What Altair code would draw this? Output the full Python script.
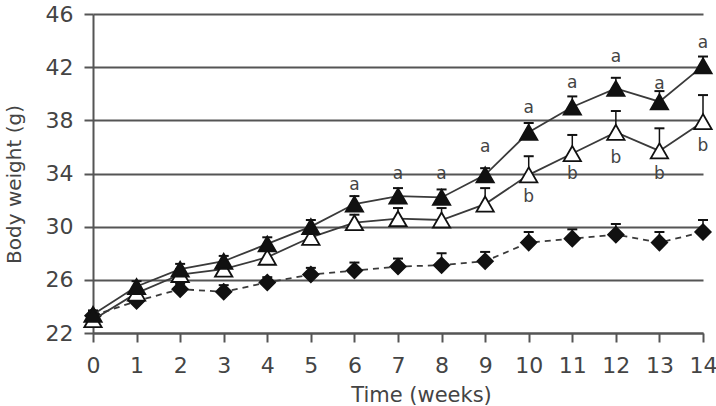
import altair as alt
import pandas as pd

weeks = list(range(15))
filled_mean = [23.4, 25.5, 26.8, 27.4, 28.7, 30.0, 31.7, 32.3, 32.2, 33.9, 37.1, 39.0, 40.4, 39.4, 42.1]
filled_err = [0.3, 0.4, 0.4, 0.4, 0.5, 0.5, 0.6, 0.6, 0.6, 0.5, 0.7, 0.8, 0.8, 0.8, 0.7]
open_mean = [23.0, 25.0, 26.4, 26.8, 27.7, 29.2, 30.3, 30.6, 30.5, 31.7, 33.9, 35.5, 37.1, 35.7, 37.9]
open_err = [0.3, 0.4, 0.4, 0.5, 0.5, 0.5, 0.6, 0.8, 0.9, 1.2, 1.4, 1.4, 1.6, 1.7, 2.0]
diamond_mean = [23.3, 24.4, 25.3, 25.1, 25.8, 26.4, 26.7, 27.0, 27.1, 27.4, 28.8, 29.1, 29.4, 28.8, 29.6]
diamond_err = [0.3, 0.3, 0.4, 0.5, 0.4, 0.5, 0.6, 0.6, 0.9, 0.7, 0.8, 0.7, 0.8, 0.8, 0.9]

a_weeks = [6, 7, 8, 9, 10, 11, 12, 13, 14]
a_y = [33.1, 34.0, 34.0, 36.0, 38.9, 40.8, 42.8, 40.7, 43.8]
b_weeks = [10, 11, 12, 13, 14]
b_y = [32.2, 34.0, 35.2, 34.0, 36.1]

y_ticks = [22, 26, 30, 34, 38, 42, 46]

xs = alt.Scale(domain=[0, 14], nice=False, zero=False)
ys = alt.Scale(domain=[22, 46], nice=False, zero=False)

AX = "#555555"
TXT = "#444444"
LINE = "#3a3a3a"
MK = "#111111"

x_axis = alt.Axis(values=weeks, grid=False, tickSize=9, tickWidth=2, tickColor=AX,
                  domainColor=AX, domainWidth=2, labelFontSize=22, labelColor=TXT,
                  labelPadding=13, labelFont="DejaVu Sans", labelFlush=False,
                  labelOverlap=False, title="Time (weeks)",
                  titleFontSize=21, titleColor=TXT, titleFontWeight="normal",
                  titleFont="DejaVu Sans", titleX=328, titleY=62,
                  titleBaseline="middle", titleAlign="center")
y_axis = alt.Axis(values=y_ticks, grid=True, gridColor=AX, gridWidth=2, tickSize=9,
                  tickWidth=2, tickColor=AX, domainColor=AX, domainWidth=2,
                  labelFontSize=22, labelColor=TXT, labelPadding=11, labelFont="DejaVu Sans",
                  labelFlush=False, labelOverlap=False,
                  title="Body weight (g)", titleFontSize=20, titleColor=TXT,
                  titleFontWeight="normal", titleFont="DejaVu Sans",
                  titleX=-79, titleY=170, titleAngle=270, titleBaseline="middle",
                  titleAlign="center")


def series(mean, err, shape, fill, dash):
    df = pd.DataFrame({"week": weeks, "mean": mean,
                       "top": [m + e for m, e in zip(mean, err)]})
    base = alt.Chart(df)
    line_kw = dict(color=LINE, strokeWidth=1.8)
    if dash:
        line_kw["strokeDash"] = [6, 5]
    line = base.mark_line(**line_kw).encode(
        x=alt.X("week:Q", scale=xs, axis=x_axis),
        y=alt.Y("mean:Q", scale=ys, axis=y_axis))
    stem = base.mark_rule(color=MK, strokeWidth=1.5).encode(
        x="week:Q", y="mean:Q", y2="top:Q")
    cap = base.mark_point(shape="M-1,0L1,0", size=100, filled=False,
                          color=MK, strokeWidth=2, opacity=1).encode(
        x="week:Q", y="top:Q")
    pt = base.mark_point(shape=shape, size=shape == "diamond" and 240 or 300,
                         filled=True, fill=fill, stroke=MK, strokeWidth=1.8,
                         opacity=1).encode(x="week:Q", y="mean:Q")
    return [line, stem, cap, pt]


layers = []
layers += series(diamond_mean, diamond_err, "diamond", MK, True)
layers += series(open_mean, open_err, "triangle-up", "white", False)
layers += series(filled_mean, filled_err, "triangle-up", MK, False)

a_df = pd.DataFrame({"week": a_weeks, "y": a_y, "t": ["a"] * len(a_weeks)})
b_df = pd.DataFrame({"week": b_weeks, "y": b_y, "t": ["b"] * len(b_weeks)})
txt_kw = dict(fontSize=17, color=TXT, baseline="middle", align="center", font="DejaVu Sans")
a_txt = alt.Chart(a_df).mark_text(**txt_kw).encode(x="week:Q", y="y:Q", text="t:N")
b_txt = alt.Chart(b_df).mark_text(**txt_kw).encode(x="week:Q", y="y:Q", text="t:N")
layers += [a_txt, b_txt]

chart = alt.layer(*layers).properties(
    width=610, height=319,
    autosize=alt.AutoSizeParams(type="none"),
    padding={"left": 93, "top": 14, "right": 13, "bottom": 73},
    background="white",
).configure_view(stroke=None)

chart.save("out.html", embed_options={"renderer": "svg", "actions": False})
